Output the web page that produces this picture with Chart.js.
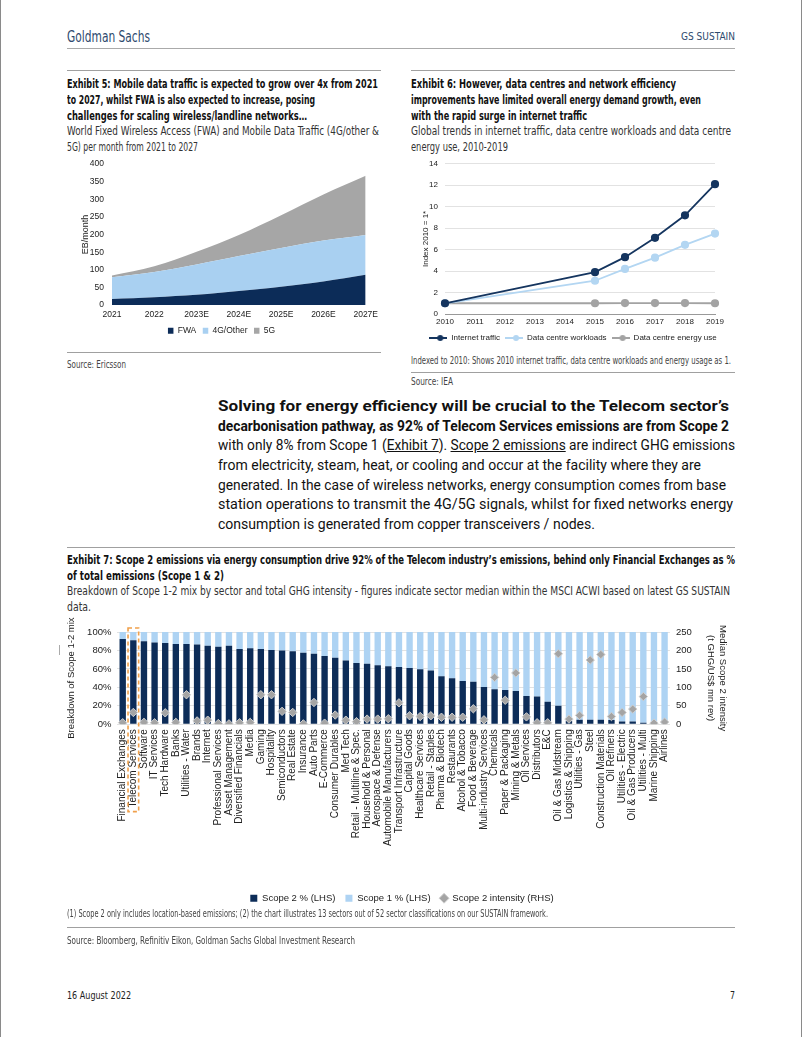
<!DOCTYPE html>
<html><head><meta charset="utf-8">
<script src="https://cdn.jsdelivr.net/npm/chart.js@4.4.1/dist/chart.umd.min.js"></script>
<style>
html,body{margin:0;padding:0;background:#fff;}
body{width:802px;height:1037px;position:relative;overflow:hidden;}
#frame{position:absolute;left:0;top:0;width:800px;height:1037px;border-left:1px solid #8a8a8a;border-right:1px solid #8a8a8a;}
.t{position:absolute;white-space:nowrap;transform-origin:0 50%;}
.n{font-family:'Liberation Sans Narrow','DejaVu Sans Condensed','Arial Narrow',sans-serif;}
.hd{font-weight:bold;font-size:13px;line-height:16px;color:#111;}
.sb{font-size:12.5px;line-height:16px;color:#333;}
.src{font-size:10px;line-height:12px;color:#444;}
.p{font-family:Roboto,'Liberation Sans',sans-serif;font-size:15px;line-height:20px;color:#111;}
.p b{font-weight:bold;}
.u{text-decoration:underline;}
.rule{position:absolute;height:0;border-top:1px solid #a0a0a0;}
.cv{position:absolute;}
</style></head><body>
<div id="frame"></div>

<div class="t n" style="left:67px;top:28px;font-size:15px;line-height:18px;color:#2e4a6e" data-w="83">Goldman Sachs</div>
<div class="t n" style="left:681px;top:30px;font-size:11px;line-height:14px;color:#2e4a6e" data-w="54">GS SUSTAIN</div>
<div class="rule" style="left:67px;top:48px;width:668px;border-top:1.5px solid #aaa"></div>

<div class="rule" style="left:67px;top:70px;width:314px"></div>
<div class="t n hd" style="left:67px;top:76px" data-w="311">Exhibit 5: Mobile data traffic is expected to grow over 4x from 2021</div>
<div class="t n hd" style="left:67px;top:92px" data-w="248">to 2027, whilst FWA is also expected to increase, posing</div>
<div class="t n hd" style="left:67px;top:108px" data-w="240">challenges for scaling wireless/landline networks…</div>
<div class="t n sb" style="left:67px;top:123px" data-w="312">World Fixed Wireless Access (FWA) and Mobile Data Traffic (4G/other &amp;</div>
<div class="t n sb" style="left:67px;top:139px" data-w="131">5G) per month from 2021 to 2027</div>

<div class="rule" style="left:411px;top:70px;width:324px"></div>
<div class="t n hd" style="left:411px;top:76px" data-w="265">Exhibit 6: However, data centres and network efficiency</div>
<div class="t n hd" style="left:411px;top:92px" data-w="290">improvements have limited overall energy demand growth, even</div>
<div class="t n hd" style="left:411px;top:108px" data-w="176">with the rapid surge in internet traffic</div>
<div class="t n sb" style="left:411px;top:123px" data-w="320">Global trends in internet traffic, data centre workloads and data centre</div>
<div class="t n sb" style="left:411px;top:139px" data-w="97">energy use, 2010-2019</div>

<div class="cv" style="left:67px;top:151px;width:316px;height:194px"><canvas id="c5"></canvas></div>
<div class="cv" style="left:411px;top:152px;width:324px;height:200px"><canvas id="c6"></canvas></div>

<div class="rule" style="left:67px;top:352px;width:314px"></div>
<div class="t n src" style="left:67px;top:359px" data-w="59">Source: Ericsson</div>
<div class="t n src" style="left:411px;top:355px" data-w="320">Indexed to 2010: Shows 2010 internet traffic, data centre workloads and energy usage as 1.</div>
<div class="rule" style="left:411px;top:372px;width:324px"></div>
<div class="t n src" style="left:411px;top:376px" data-w="42">Source: IEA</div>

<div class="t p" style="left:218px;top:396px" data-w="511"><b>Solving for energy efficiency will be crucial to the Telecom sector’s</b></div>
<div class="t p" style="left:218px;top:416px" data-w="511"><b>decarbonisation pathway, as 92% of Telecom Services emissions are from Scope 2</b></div>
<div class="t p" style="left:218px;top:435px" data-w="517">with only 8% from Scope 1 (<span class="u">Exhibit 7</span>). <span class="u">Scope 2 emissions</span> are indirect GHG emissions</div>
<div class="t p" style="left:218px;top:455px" data-w="483">from electricity, steam, heat, or cooling and occur at the facility where they are</div>
<div class="t p" style="left:218px;top:475px" data-w="508">generated. In the case of wireless networks, energy consumption comes from base</div>
<div class="t p" style="left:218px;top:494px" data-w="515">station operations to transmit the 4G/5G signals, whilst for fixed networks energy</div>
<div class="t p" style="left:218px;top:514px" data-w="377">consumption is generated from copper transceivers / nodes.</div>

<div class="rule" style="left:67px;top:547px;width:668px"></div>
<div class="t n hd" style="left:67px;top:552px" data-w="668">Exhibit 7: Scope 2 emissions via energy consumption drive 92% of the Telecom industry’s emissions, behind only Financial Exchanges as %</div>
<div class="t n hd" style="left:67px;top:568px" data-w="157">of total emissions (Scope 1 &amp; 2)</div>
<div class="t n sb" style="left:67px;top:583px" data-w="663">Breakdown of Scope 1-2 mix by sector and total GHG intensity - figures indicate sector median within the MSCI ACWI based on latest GS SUSTAIN</div>
<div class="t n sb" style="left:67px;top:599px" data-w="24">data.</div>
<div style="position:absolute;left:59px;top:645px;height:10px;border-left:1px solid #aaa"></div>

<div class="cv" style="left:62px;top:606px;width:680px;height:307px"><canvas id="c7"></canvas></div>

<div class="t n src" style="left:67px;top:908px" data-w="481">(1) Scope 2 only includes location-based emissions; (2) the chart illustrates 13 sectors out of 52 sector classifications on our SUSTAIN framework.</div>
<div class="rule" style="left:67px;top:927px;width:668px"></div>
<div class="t n src" style="left:67px;top:935px" data-w="288">Source: Bloomberg, Refinitiv Eikon, Goldman Sachs Global Investment Research</div>

<div class="t n" style="left:67px;top:989px;font-size:11px;line-height:14px;color:#222" data-w="64">16 August 2022</div>
<div class="t n" style="left:730px;top:989px;font-size:11px;line-height:14px;color:#222" data-w="5">7</div>

<script>
// ---------- Exhibit 5 data ----------
const ex5Years = ['2021','2022','2023E','2024E','2025E','2026E','2027E'];
const ex5FWA   = [17, 22, 29, 40, 52, 67, 86];
const ex5G4    = [62, 72, 86, 99, 110, 116, 113];
const ex5G5    = [5, 16, 36, 60, 93, 131, 168];

// ---------- Exhibit 6 data ----------
const ex6Years     = ['2010','2011','2012','2013','2014','2015','2016','2017','2018','2019'];
const ex6Internet  = [1, null, null, null, null, 3.9, 5.3, 7.1, 9.2, 12.1];
const ex6Workloads = [1, null, null, null, null, 3.1, 4.2, 5.25, 6.45, 7.5];
const ex6Energy    = [1, null, null, null, null, 1.0, 1.02, 1.02, 1.02, 1.0];

// ---------- Exhibit 7 data ----------
const ex7Sectors = ['Financial Exchanges','Telecom Services','Software','IT Services','Tech Hardware','Banks','Utilities - Water','Brands','Internet','Professional Services','Asset Management','Diversified Financials','Media','Gaming','Hospitality','Semiconductors','Real Estate','Insurance','Auto Parts','E-Commerce','Consumer Durables','Med Tech','Retail - Multiline & Spec.','Household & Personal','Aerospace & Defense','Automobile Manufacturers','Transport Infrastructure','Capital Goods','Healthcare Services','Retail - Staples','Pharma & Biotech','Restaurants','Alcohol & Tobacco','Food & Beverage','Multi-industry Services','Chemicals','Paper & Packaging','Mining & Metals','Oil Services','Distributors','E&C','Oil & Gas Midstream','Logistics & Shipping','Utilities - Gas','Steel','Construction Materials','Oil Refiners','Utilities - Electric','Oil & Gas Producers','Utilities - Multi','Marine Shipping','Airlines'];
const ex7Scope2 = [92.5,91,90,88.5,88,87,87,86.5,85,84,85,81.5,82.5,81.5,80.5,80,79,77.5,76.5,74,72,69,66.5,65.5,64,63,62,61,59.5,58.3,52,50,47,46,40.5,38,37,36,30.5,30,24.5,20,3.5,5,5,5,4.5,3,3,1.5,0,0];
const ex7Scope1 = [7.5,9,10,11.5,12,13,13,13.5,15,16,15,18.5,17.5,18.5,19.5,20,21,22.5,23.5,26,28,31,33.5,34.5,36,37,38,39,40.5,41.7,48,50,53,54,59.5,62,63,64,69.5,70,75.5,80,96.5,95,95,95,95.5,97,97,98.5,100,100];
const ex7Intensity = [4,32,5,4,31,5,80,9,11,2,1,4,5,80,80,35,32,1,59,3,25,11,7,14,14,15,58,23,21,23,19,19,19,42,12,127,65,139,20,4,4,191,14,24,174,189,21,32,41,75,3,6];

const FONT = "'Liberation Sans', Arial, Helvetica, sans-serif";
Chart.defaults.font.family = FONT;
Chart.defaults.color = '#222';
Chart.defaults.animation = false;

const NAVY = '#0c2c58', LBLUE = '#a9d0f1', GREY = '#a6a6a6';

// Exhibit 5
new Chart(document.getElementById('c5'), {
  type: 'line',
  data: { labels: ex5Years, datasets: [
    {label:'FWA', data:ex5FWA, backgroundColor:NAVY, borderColor:NAVY, borderWidth:0, fill:'origin', pointRadius:0, tension:0.35},
    {label:'4G/Other', data:ex5G4, backgroundColor:LBLUE, borderColor:LBLUE, borderWidth:0, fill:'-1', pointRadius:0, tension:0.35},
    {label:'5G', data:ex5G5, backgroundColor:GREY, borderColor:GREY, borderWidth:0, fill:'-1', pointRadius:0, tension:0.35}
  ]},
  options: {
    responsive:true, maintainAspectRatio:false,
    layout:{padding:{top:4, right:15, left:8, bottom:0}},
    scales:{
      x:{offset:false, grid:{display:false, drawTicks:false}, border:{display:false},
         ticks:{font:{size:8.5}, maxRotation:0, autoSkip:false, padding:5}, afterFit(s){s.height=15;}},
      y:{stacked:true, min:0, max:400, grid:{display:false, drawTicks:false}, border:{display:false},
         ticks:{stepSize:50, font:{size:8.5}, padding:8},
         title:{display:true, text:'EB/month', font:{size:9}, padding:{top:5,bottom:0}},
         afterFit(s){s.width=37;}}
    },
    plugins:{
      legend:{position:'bottom', labels:{boxWidth:5.5, boxHeight:6, font:{size:8.5}, padding:6.5}},
      tooltip:{enabled:false}
    }
  }
});

// Exhibit 6
function lineMark(color){
  const c = document.createElement('canvas'); c.width = 18; c.height = 8;
  const g = c.getContext('2d');
  g.strokeStyle = color; g.lineWidth = 2;
  g.beginPath(); g.moveTo(0,4); g.lineTo(18,4); g.stroke();
  g.fillStyle = color; g.beginPath(); g.arc(11,4,3,0,Math.PI*2); g.fill();
  return c;
}
const INAVY = '#15355f', IBLUE = '#b3d6f2', IGREY = '#a3a3a3';
const ex6Marks = [lineMark(INAVY), lineMark(IBLUE), lineMark(IGREY)];
new Chart(document.getElementById('c6'), {
  type: 'line',
  data: { labels: ex6Years, datasets: [
    {label:'Internet traffic', data:ex6Internet, borderColor:INAVY, backgroundColor:INAVY, borderWidth:1.8, pointRadius:3.2, pointStyle:'circle', spanGaps:true, tension:0},
    {label:'Data centre workloads', data:ex6Workloads, borderColor:IBLUE, backgroundColor:IBLUE, borderWidth:1.8, pointRadius:3.2, pointStyle:'circle', spanGaps:true, tension:0},
    {label:'Data centre energy use', data:ex6Energy, borderColor:IGREY, backgroundColor:IGREY, borderWidth:1.8, pointRadius:3.2, pointStyle:'circle', spanGaps:true, tension:0}
  ]},
  options: {
    responsive:true, maintainAspectRatio:false,
    layout:{padding:{top:5, right:0, left:0, bottom:0}},
    scales:{
      x:{offset:false, grid:{display:false, drawTicks:false}, border:{display:true, color:'#999'},
         ticks:{font:{size:8}, maxRotation:0, autoSkip:false, padding:3},
         afterFit(s){s.height=15; s.paddingRight=20;}},
      y:{min:0, max:14, grid:{color:'#e2e2e2', drawTicks:false}, border:{display:false},
         ticks:{stepSize:2, font:{size:8}, padding:7},
         title:{display:true, text:'Index 2010 = 1*', font:{size:8}, padding:{top:10,bottom:0}},
         afterFit(s){s.width=34;}}
    },
    plugins:{
      legend:{position:'bottom', labels:{usePointStyle:true, pointStyleWidth:18, boxHeight:8, font:{size:8}, padding:5,
        generateLabels(chart){
          const items = Chart.defaults.plugins.legend.labels.generateLabels(chart);
          items.forEach((it,i)=>{ it.pointStyle = ex6Marks[i]; });
          return items;
        }}},
      tooltip:{enabled:false}
    }
  }
});
</script>
<script>
// Exhibit 7
const TICKFONT7 = 10;
const hlPlugin = {
  id:'hlbox',
  afterDraw(chart){
    const {ctx, chartArea} = chart;
    const x = chart.scales.x;
    const cx = x.getPixelForValue(1);
    const w = x.width / ex7Sectors.length;
    ctx.save();
    ctx.font = TICKFONT7 + 'px ' + FONT;
    const lw = ctx.measureText(ex7Sectors[1]).width;
    ctx.strokeStyle = '#f0a04b'; ctx.lineWidth = 1.6; ctx.setLineDash([4,3]);
    ctx.strokeRect(cx - w/2, chartArea.top - 4, w, chartArea.bottom - chartArea.top + 4 + 5 + lw + 4);
    ctx.restore();
  }
};
new Chart(document.getElementById('c7'), {
  type: 'bar',
  data: { labels: ex7Sectors, datasets: [
    {type:'line', label:'Scope 2 intensity (RHS)', data:ex7Intensity, yAxisID:'y1', showLine:false,
     pointStyle:'rectRot', pointRadius:4.2, backgroundColor:'#a4a4a4', borderColor:'#cfcfcf', borderWidth:1, order:0},
    {label:'Scope 2 % (LHS)', data:ex7Scope2, backgroundColor:NAVY, yAxisID:'y', stack:'s', pointStyle:'rect', order:1,
     barPercentage:0.6, categoryPercentage:1},
    {label:'Scope 1 % (LHS)', data:ex7Scope1, backgroundColor:'#aed3f3', yAxisID:'y', stack:'s', pointStyle:'rect', order:1,
     barPercentage:0.6, categoryPercentage:1}
  ]},
  options: {
    responsive:true, maintainAspectRatio:false,
    layout:{padding:{top:26, right:0, left:0, bottom:0}},
    scales:{
      x:{stacked:true, offset:true, grid:{display:false, drawTicks:false}, border:{display:false},
         ticks:{autoSkip:false, maxRotation:90, minRotation:90, font:{size:TICKFONT7}, padding:5},
         afterFit(s){s.height=159.25;}},
      y:{stacked:true, min:0, max:100, position:'left', grid:{color:'#e2e2e2', drawTicks:false}, border:{display:false},
         ticks:{stepSize:20, font:{size:9.5}, padding:6, callback:v=>v+'%'},
         title:{display:true, text:'Breakdown of Scope 1-2 mix', font:{size:9.5}, padding:{top:4,bottom:0}},
         afterFit(s){s.width=55.4;}},
      y1:{min:0, max:250, position:'right', grid:{display:false, drawTicks:false}, border:{display:false},
         ticks:{stepSize:50, font:{size:9.5}, padding:6},
         title:{display:true, text:['Median Scope 2 intensity','(t GHG/US$ mn rev)'], font:{size:9.5}, padding:{top:14,bottom:0}},
         afterFit(s){s.width=72.1;}}
    },
    plugins:{
      legend:{position:'bottom', labels:{usePointStyle:true, boxWidth:7, boxHeight:7, font:{size:9.5}, padding:10,
        sort:(a,b)=>{const o=[1,2,0]; return o.indexOf(a.datasetIndex)-o.indexOf(b.datasetIndex);}}},
      tooltip:{enabled:false}
    }
  },
  plugins:[hlPlugin]
});

function fitText(){
  document.querySelectorAll('[data-w]').forEach(el=>{
    el.style.transform='none';
    const w = el.getBoundingClientRect().width;
    const t = +el.dataset.w;
    if (w>0) el.style.transform = 'scaleX(' + (t/w) + ')';
  });
}
fitText();
if (document.fonts && document.fonts.ready) document.fonts.ready.then(fitText);
</script>
</body></html>
